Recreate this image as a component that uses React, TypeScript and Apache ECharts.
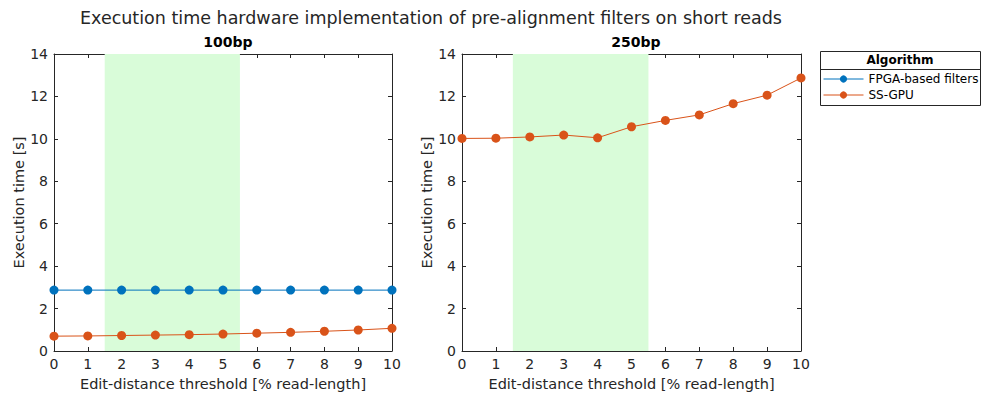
import React, { useEffect, useRef } from "react";
import * as echarts from "echarts";

const thresholds = [0, 1, 2, 3, 4, 5, 6, 7, 8, 9, 10];
const fpga100 = [2.87, 2.87, 2.87, 2.87, 2.87, 2.87, 2.87, 2.87, 2.87, 2.87, 2.87];
const ssgpu100 = [0.7, 0.71, 0.73, 0.75, 0.77, 0.8, 0.84, 0.88, 0.93, 0.99, 1.07];
const ssgpu250 = [10.02, 10.03, 10.09, 10.18, 10.05, 10.57, 10.87, 11.13, 11.66, 12.06, 12.87];
const highlightRange = [1.5, 5.5];
const panelTitles = ["100bp", "250bp"];
const seriesNames = ["FPGA-based filters", "SS-GPU"];
const colors = ["#0072BD", "#D95319"];

const FONT = "DejaVu Sans";
const TXT = "#262626";

export default function App() {
  const ref = useRef<HTMLDivElement>(null);
  useEffect(() => {
    const chart = echarts.init(ref.current!, null, { renderer: "svg" });
    const grids = [
      { left: 54, top: 54, width: 338, height: 300 },
      { left: 462, top: 54, width: 339, height: 300 },
    ];
    const xAxes: any[] = [];
    const yAxes: any[] = [];
    grids.forEach((_, i) => {
      xAxes.push({
        type: "value", gridIndex: i, min: 0, max: 10, interval: 1, position: "bottom",
        name: "Edit-distance threshold [% read-length]", nameLocation: "middle", nameGap: 25,
        nameTextStyle: { fontFamily: FONT, fontSize: 14.5, color: TXT },
        axisLine: { show: true, onZero: false, lineStyle: { color: TXT, width: 1 } },
        axisTick: { show: true, inside: true, length: 4, lineStyle: { color: TXT } },
        axisLabel: { fontFamily: FONT, fontSize: 14, color: TXT, margin: 6 },
        splitLine: { show: false },
      });
      xAxes.push({
        type: "value", gridIndex: i, min: 0, max: 10, interval: 1, position: "top",
        axisLine: { show: true, onZero: false, lineStyle: { color: TXT, width: 1 } },
        axisTick: { show: true, inside: true, length: 4, lineStyle: { color: TXT } },
        axisLabel: { show: false }, splitLine: { show: false },
      });
      yAxes.push({
        type: "value", gridIndex: i, min: 0, max: 14, interval: 2, position: "left",
        name: "Execution time [s]", nameLocation: "middle", nameGap: 28,
        nameTextStyle: { fontFamily: FONT, fontSize: 14.5, color: TXT },
        axisLine: { show: true, onZero: false, lineStyle: { color: TXT, width: 1 } },
        axisTick: { show: true, inside: true, length: 4, lineStyle: { color: TXT } },
        axisLabel: { fontFamily: FONT, fontSize: 14, color: TXT, margin: 6 },
        splitLine: { show: false },
      });
      yAxes.push({
        type: "value", gridIndex: i, min: 0, max: 14, interval: 2, position: "right",
        axisLine: { show: true, onZero: false, lineStyle: { color: TXT, width: 1 } },
        axisTick: { show: true, inside: true, length: 4, lineStyle: { color: TXT } },
        axisLabel: { show: false }, splitLine: { show: false },
      });
    });

    const band = {
      silent: true,
      itemStyle: { color: "#D9FCD9" },
      data: [[{ xAxis: highlightRange[0] }, { xAxis: highlightRange[1] }]],
    };
    const lineSeries = (name: string, vals: number[], color: string, gi: number, extra: any = {}) => ({
      type: "line", name, xAxisIndex: gi * 2, yAxisIndex: gi * 2,
      data: thresholds.map((t, k) => [t, vals[k]]),
      symbol: "circle", symbolSize: 9, showSymbol: true,
      lineStyle: { color, width: 1 }, itemStyle: { color },
      ...extra,
    });

    chart.setOption({
      animation: false,
      backgroundColor: "#ffffff",
      title: [
        {
          text: "Execution time hardware implementation of pre-alignment filters on short reads",
          left: 426, top: 4, textAlign: "center",
          textStyle: { fontFamily: FONT, fontSize: 17.5, fontWeight: "normal", color: TXT },
        },
        {
          text: panelTitles[0], left: 223, top: 30, textAlign: "center",
          textStyle: { fontFamily: FONT, fontSize: 14, fontWeight: "bold", color: "#000" },
        },
        {
          text: panelTitles[1], left: 631, top: 30, textAlign: "center",
          textStyle: { fontFamily: FONT, fontSize: 14, fontWeight: "bold", color: "#000" },
        },
      ],
      grid: grids,
      xAxis: xAxes,
      yAxis: yAxes,
      legend: {
        orient: "vertical", left: 823, top: 73, itemGap: 4, itemWidth: 40, itemHeight: 9,
        data: seriesNames,
        lineStyle: { width: 1 },
        textStyle: { fontFamily: FONT, fontSize: 12, color: "#000", padding: [0, 0, 0, 0] },
        padding: 0,
      },
      graphic: [
        { type: "rect", shape: { x: 820.5, y: 51.5, width: 160, height: 54 }, style: { fill: "#fff", stroke: "#262626", lineWidth: 1 }, z: -1 },
        { type: "line", shape: { x1: 820.5, y1: 69.5, x2: 980.5, y2: 69.5 }, style: { stroke: "#262626", lineWidth: 1 } },
        { type: "text", x: 900, y: 54, style: { text: "Algorithm", fontFamily: FONT, fontSize: 12, fontWeight: "bold", fill: "#000", textAlign: "center" } },
      ],
      series: [
        lineSeries(seriesNames[0], fpga100, colors[0], 0, { markArea: band, z: 3 }),
        lineSeries(seriesNames[1], ssgpu100, colors[1], 0),
        lineSeries(seriesNames[1], ssgpu250, colors[1], 1, { markArea: band }),
      ],
    });
    return () => chart.dispose();
  }, []);
  return <div ref={ref} style={{ width: 982, height: 396, position: "absolute", left: 0, top: 0 }} />;
}
